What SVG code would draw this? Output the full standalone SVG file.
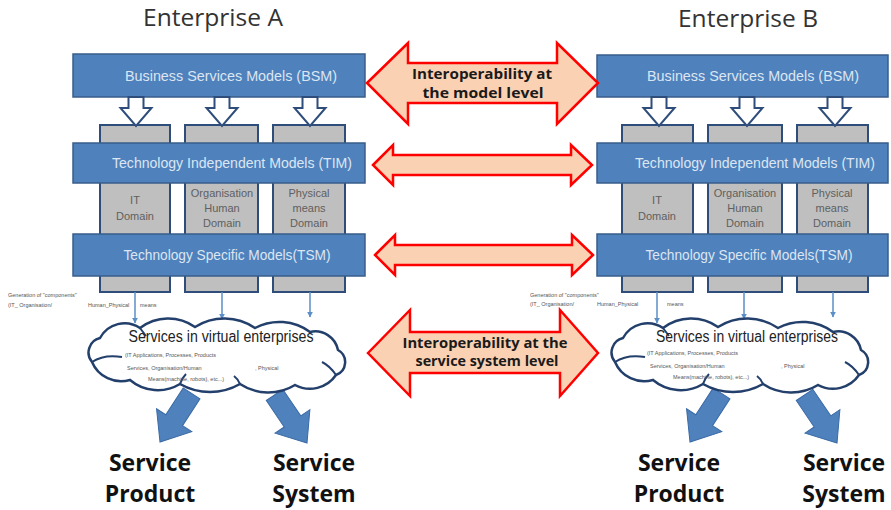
<svg xmlns="http://www.w3.org/2000/svg" width="891" height="510" viewBox="0 0 891 510">
<style>
.title{font-family:"Open Sans","Liberation Sans",sans-serif;font-size:24px;fill:#333;text-anchor:middle}
.bar{fill:#4f81bd;stroke:#385d8a;stroke-width:1.5}
.bartxt{font-family:"Liberation Sans",Arial,sans-serif;font-size:14px;fill:#dce6f2;text-anchor:middle}
.col{fill:#bfbfbf;stroke:#2e4d7b;stroke-width:2}
.coltxt{font-family:"Liberation Sans",Arial,sans-serif;font-size:11px;fill:#606060;text-anchor:middle}
.hollow{fill:#fff;stroke:#2e4d7b;stroke-width:2;stroke-linejoin:miter}
.thin{stroke:#5b8fc9;stroke-width:1.5;fill:none}
.dbl{fill:#fad1b2;stroke:#ff0000;stroke-width:2.5;stroke-linejoin:miter}
.dbltxt{font-family:"Open Sans","Liberation Sans",sans-serif;font-size:14px;font-weight:bold;fill:#1a1a1a;text-anchor:middle}
.tiny{font-family:"Liberation Sans",Arial,sans-serif;font-size:5.5px;fill:#555}
.cloud{fill:#fff;stroke:#233f6b;stroke-width:2.5}
.inner{fill:none;stroke:#233f6b;stroke-width:2}
.cloudtxt{font-family:"Liberation Sans",Arial,sans-serif;font-size:16px;fill:#222;text-anchor:middle}
.big{fill:#4f81bd;stroke:#3a6aa5;stroke-width:1}
.lbl{font-family:"Open Sans","Liberation Sans",sans-serif;font-size:23px;font-weight:bold;fill:#111;text-anchor:middle}
</style>
<defs>
<marker id="ah" viewBox="0 0 10 10" refX="9" refY="5" markerWidth="6" markerHeight="6" orient="auto" markerUnits="userSpaceOnUse">
<path d="M0,0 L10,5 L0,10 z" fill="#5b8fc9"/>
</marker>
<path id="hollowArrow" class="hollow" d="M-7.5,0 L7.5,0 L7.5,11 L15.5,11 L0,29 L-15.5,11 L-7.5,11 Z"/>
<path id="bigArrow" class="big" d="M0,0 L-21,-26 L-10,-26 L-10,-58 L10,-58 L10,-26 L21,-26 Z"/>
<path id="cloudShape" class="cloud" d="M92,362 A14.9,14.9 0 0 1 100,338 A27.8,27.8 0 0 1 140,328 A46.5,46.5 0 0 1 195,327 A54.5,54.5 0 0 1 255,328 A51.6,51.6 0 0 1 310,332 A23.2,23.2 0 0 1 338,350 A13.75,13.75 0 0 1 336,375 A31.6,31.6 0 0 1 295,385 A51.3,51.3 0 0 1 240,384 A60.3,60.3 0 0 1 180,384 A43,43 0 0 1 130,380 A31.6,31.6 0 0 1 92,362 Z"/>
<path id="cloudInner" class="inner" d="M92,362 Q104,354 122,357 M336,375 Q330,366 322,362 M180,384 Q182,378 186,374 M240,384 Q238,379 234,376 M140,328 Q143,332 146,336"/>
</defs>

<g id="enterprise-a-title"><text class="title" x="213" y="26" textLength="140" lengthAdjust="spacingAndGlyphs">Enterprise A</text></g>
<g id="enterprise-b-title"><text class="title" x="748" y="27" textLength="140" lengthAdjust="spacingAndGlyphs">Enterprise B</text></g>

<!-- Enterprise A stack -->
<g id="a-columns">
<rect class="col" x="100" y="125" width="70" height="167"/>
<rect class="col" x="185" y="125" width="73" height="167"/>
<rect class="col" x="273" y="125" width="72" height="167"/>
</g>
<!-- Enterprise B columns -->
<g id="b-columns">
<rect class="col" x="622" y="125" width="71" height="167"/>
<rect class="col" x="708" y="125" width="74" height="167"/>
<rect class="col" x="797" y="125" width="71" height="167"/>
</g>

<!-- connectors (drawn beneath the clouds) -->
<g id="connectors">
<line class="thin" x1="135" y1="292" x2="135" y2="323" marker-end="url(#ah)"/>
<line class="thin" x1="222" y1="292" x2="222" y2="319" marker-end="url(#ah)"/>
<line class="thin" x1="310" y1="292" x2="310" y2="317" marker-end="url(#ah)"/>
<line class="thin" x1="657" y1="292" x2="657" y2="323" marker-end="url(#ah)"/>
<line class="thin" x1="744" y1="292" x2="744" y2="319" marker-end="url(#ah)"/>
<line class="thin" x1="833" y1="292" x2="833" y2="317" marker-end="url(#ah)"/>
<use href="#bigArrow" transform="translate(160,442) rotate(33)"/>
<use href="#bigArrow" transform="translate(307,443) rotate(-34)"/>
<use href="#bigArrow" transform="translate(690,442) rotate(33)"/>
<use href="#bigArrow" transform="translate(837,443) rotate(-34)"/>
</g>

<g id="a-bsm"><rect class="bar" x="73" y="54" width="292" height="43"/><text class="bartxt" x="231" y="81" textLength="212" lengthAdjust="spacingAndGlyphs">Business  Services Models (BSM)</text></g>
<g id="a-hollow-arrows">
<use href="#hollowArrow" x="136" y="97"/>
<use href="#hollowArrow" x="222" y="97"/>
<use href="#hollowArrow" x="310" y="97"/>
</g>
<g id="a-tim"><rect class="bar" x="73" y="143" width="292" height="40"/><text class="bartxt" x="232" y="168" textLength="240" lengthAdjust="spacingAndGlyphs">Technology  Independent  Models (TIM)</text></g>
<g id="a-it-domain"><text class="coltxt" x="135" y="204">IT</text><text class="coltxt" x="135" y="220">Domain</text></g>
<g id="a-org-domain"><text class="coltxt" x="222" y="197">Organisation</text><text class="coltxt" x="222" y="212">Human</text><text class="coltxt" x="222" y="227">Domain</text></g>
<g id="a-phys-domain"><text class="coltxt" x="309" y="197">Physical</text><text class="coltxt" x="309" y="212">means</text><text class="coltxt" x="309" y="227">Domain</text></g>
<g id="a-tsm"><rect class="bar" x="73" y="234" width="292" height="42"/><text class="bartxt" x="227" y="260" textLength="207" lengthAdjust="spacingAndGlyphs">Technology Specific Models(TSM)</text></g>
<g id="a-generation-note">
<text class="tiny" x="8" y="297">Generation of  "components"</text>
<text class="tiny" x="8" y="307">(IT_ Organisation/</text>
<text class="tiny" x="88" y="307">Human_Physical</text>
<text class="tiny" x="140" y="307">means</text>
</g>
<g id="a-cloud">
<use href="#cloudShape"/>
<use href="#cloudInner"/>
<text class="cloudtxt" x="221" y="342" textLength="185" lengthAdjust="spacingAndGlyphs">Services in virtual  enterprises</text>
<text class="tiny" x="125" y="357">(IT Applications, Processes, Products</text>
<text class="tiny" x="127" y="370">Services, Organisation/Human</text>
<text class="tiny" x="255" y="370">, Physical</text>
<text class="tiny" x="148" y="381">Means(machine, robots), etc...)</text>
</g>
<g id="a-service-product"><text class="lbl" x="150" y="471">Service</text><text class="lbl" x="150" y="502">Product</text></g>
<g id="a-service-system"><text class="lbl" x="314" y="471">Service</text><text class="lbl" x="314" y="502">System</text></g>

<!-- Enterprise B stack -->
<g id="b-bsm"><rect class="bar" x="597" y="55" width="291" height="42"/><text class="bartxt" x="753" y="81" textLength="212" lengthAdjust="spacingAndGlyphs">Business  Services Models (BSM)</text></g>
<g id="b-hollow-arrows">
<use href="#hollowArrow" x="659" y="97"/>
<use href="#hollowArrow" x="747" y="97"/>
<use href="#hollowArrow" x="835" y="97"/>
</g>
<g id="b-tim"><rect class="bar" x="597" y="143" width="291" height="40"/><text class="bartxt" x="755" y="168" textLength="240" lengthAdjust="spacingAndGlyphs">Technology  Independent  Models (TIM)</text></g>
<g id="b-it-domain"><text class="coltxt" x="657" y="204">IT</text><text class="coltxt" x="657" y="220">Domain</text></g>
<g id="b-org-domain"><text class="coltxt" x="745" y="197">Organisation</text><text class="coltxt" x="745" y="212">Human</text><text class="coltxt" x="745" y="227">Domain</text></g>
<g id="b-phys-domain"><text class="coltxt" x="832" y="197">Physical</text><text class="coltxt" x="832" y="212">means</text><text class="coltxt" x="832" y="227">Domain</text></g>
<g id="b-tsm"><rect class="bar" x="597" y="234" width="291" height="42"/><text class="bartxt" x="749" y="260" textLength="207" lengthAdjust="spacingAndGlyphs">Technology Specific Models(TSM)</text></g>
<g id="b-generation-note">
<text class="tiny" x="530" y="297">Generation of  "components"</text>
<text class="tiny" x="530" y="306">(IT_ Organisation/</text>
<text class="tiny" x="597" y="306">Human_Physical</text>
<text class="tiny" x="667" y="306">means</text>
</g>
<g id="b-cloud" transform="translate(523,0)">
<use href="#cloudShape"/>
<use href="#cloudInner"/>
<text class="cloudtxt" x="224" y="342" textLength="182" lengthAdjust="spacingAndGlyphs">Services in virtual  enterprises</text>
<text class="tiny" x="124" y="355">(IT Applications, Processes, Products</text>
<text class="tiny" x="127" y="368">Services, Organisation/Human</text>
<text class="tiny" x="258" y="368">, Physical</text>
<text class="tiny" x="150" y="379">Means(machine, robots), etc...)</text>
</g>
<g id="b-service-product"><text class="lbl" x="679" y="471">Service</text><text class="lbl" x="679" y="502">Product</text></g>
<g id="b-service-system"><text class="lbl" x="844" y="471">Service</text><text class="lbl" x="844" y="502">System</text></g>

<!-- Interoperability arrows -->
<g id="interop-model">
<polygon class="dbl" points="367,83 408,43 408,63 557,63 557,43 598,83 557,124 557,103 408,103 408,124"/>
<text class="dbltxt" x="482" y="79" textLength="140" lengthAdjust="spacingAndGlyphs">Interoperability  at</text>
<text class="dbltxt" x="483" y="98" textLength="121" lengthAdjust="spacingAndGlyphs">the  model  level</text>
</g>
<g id="interop-tim">
<polygon class="dbl" points="373,165 393,145 393,155 571,155 571,145 592,165 571,185 571,175 393,175 393,185"/>
</g>
<g id="interop-tsm">
<polygon class="dbl" points="375,255 395,235 395,245 572,245 572,235 593,255 572,275 572,265 395,265 395,275"/>
</g>
<g id="interop-service">
<polygon class="dbl" points="368,353 410,310 410,332 560,332 560,310 598,353 560,396 560,373 410,373 410,396"/>
<text class="dbltxt" x="485" y="348" textLength="165" lengthAdjust="spacingAndGlyphs">Interoperability at the</text>
<text class="dbltxt" x="487" y="366" textLength="143" lengthAdjust="spacingAndGlyphs">service system level</text>
</g>
</svg>
